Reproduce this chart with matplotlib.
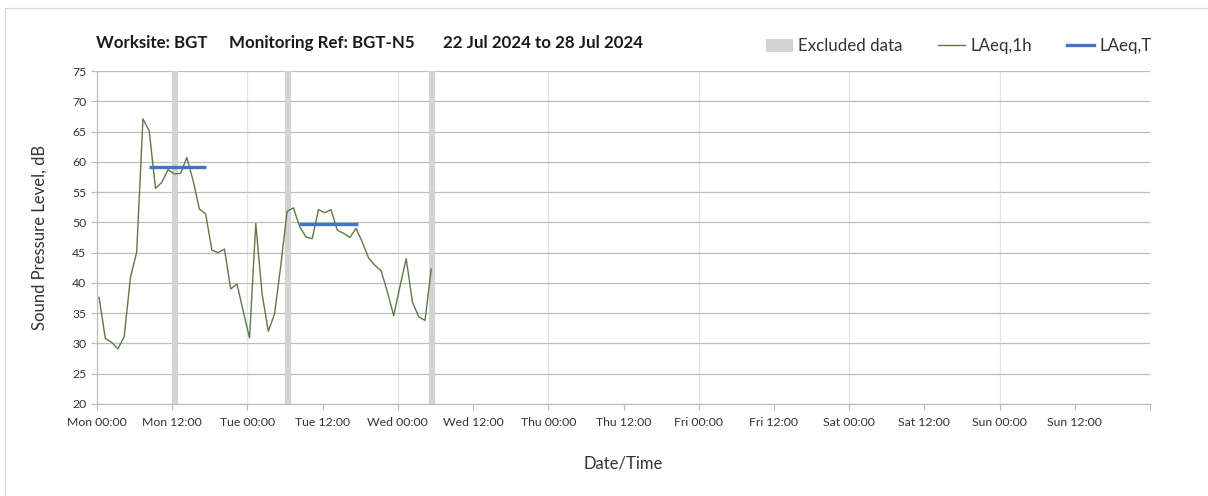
"""Weekly noise monitoring chart: LAeq,1h with LAeq,T and excluded periods."""

import matplotlib
matplotlib.use("Agg")
import matplotlib.pyplot as plt
from matplotlib.patches import Patch, Rectangle
from matplotlib.lines import Line2D
import numpy as np
import pandas as pd

plt.rcParams["font.family"] = ["Lato", "DejaVu Sans"]

# ---- data -------------------------------------------------------------
week_start = pd.Timestamp("2024-07-22 00:00")
first_reading = pd.Timestamp("2024-07-22 00:20")

laeq_1h = [
    37.6, 30.8, 30.2, 29.1, 31.1, 40.9, 45.1, 67.1, 65.1, 55.6,
    56.6, 58.7, 58.0, 58.1, 60.7, 56.9, 52.2, 51.4, 45.4, 45.0,
    45.6, 39.0, 39.8, 35.3, 30.9, 49.8, 38.2, 32.0, 34.9, 43.0,
    51.8, 52.4, 49.3, 47.6, 47.3, 52.1, 51.6, 52.1, 48.7, 48.2,
    47.5, 49.0, 46.7, 44.1, 42.9, 42.0, 38.5, 34.6, 39.4, 44.0,
    36.8, 34.4, 33.8, 42.3,
]

# LAeq,T periods (hours from Mon 00:00) and level
laeq_t_start = [8.3, 32.3]
laeq_t_end = [17.4, 41.6]
laeq_t_level = [59.1, 49.8]

# excluded data periods (hours from Mon 00:00)
excl_start = [12, 30, 53]
excl_end = [13, 31, 54]

day_names = ["Mon", "Tue", "Wed", "Thu", "Fri", "Sat", "Sun"]

# ---- plot -------------------------------------------------------------
times = pd.date_range(first_reading, periods=len(laeq_1h), freq="h")
hours = (times - week_start) / pd.Timedelta(hours=1)

fig = plt.figure(figsize=(12.08, 4.96), dpi=100)
ax = fig.add_axes([97 / 1208, 1 - 404 / 496, 1053 / 1208, 333 / 496])

for s, e in zip(excl_start, excl_end):
    ax.axvspan(s, e, color="#d3d3d3", lw=0, zorder=1)

ax.plot(hours, laeq_1h, color="#5b7a45", lw=1.0, zorder=3)
for s, e, v in zip(laeq_t_start, laeq_t_end, laeq_t_level):
    ax.plot([s, e], [v, v], color="#4472C4", lw=2.4, zorder=4, solid_capstyle="butt")

ax.set_xlim(0, 168)
ax.set_ylim(20, 75)
ax.set_yticks(np.arange(20, 76, 5))
xt = np.arange(0, 168, 12)
ax.set_xticks(np.arange(0, 169, 12))
ax.set_xticklabels([f"{day_names[int(h // 24)]} {int(h % 24):02d}:00" for h in xt] + [""])

ax.set_axisbelow(True)
ax.grid(axis="y", color="#bdbdbd", lw=0.9)
for h in np.arange(24, 168, 24):
    ax.axvline(h, color="#e3e3e3", lw=0.9, zorder=0)

for side in ["top", "right"]:
    ax.spines[side].set_visible(False)
for side in ["left", "bottom"]:
    ax.spines[side].set_color("#bdbdbd")
    ax.spines[side].set_linewidth(0.9)
ax.tick_params(axis="both", direction="out", length=4, width=0.9, color="#bdbdbd",
               labelsize=8.8, labelcolor="#333333")
ax.tick_params(axis="x", pad=5)

ax.set_ylabel("Sound Pressure Level, dB", fontsize=12, color="#333333", labelpad=18)
ax.set_xlabel("Date/Time", fontsize=12, color="#333333", labelpad=20)

# title pieces
ty = 1 - 43 / 496
title_kw = dict(fontsize=12.2, fontweight="bold", va="center", color="#1a1a1a")
fig.text(96 / 1208, ty, "Worksite: BGT", **title_kw)
fig.text(229 / 1208, ty, "Monitoring Ref: BGT-N5", **title_kw)
fig.text(443 / 1208, ty, "22 Jul 2024 to 28 Jul 2024", **title_kw)

handles = [
    Patch(facecolor="#d3d3d3", edgecolor="none"),
    Line2D([], [], color="#5b7a45", lw=1.0),
    Line2D([], [], color="#4472C4", lw=2.4),
]
fig.legend(handles, ["Excluded data", "LAeq,1h", "LAeq,T"], ncol=3, frameon=False,
           loc="center right", bbox_to_anchor=(1167 / 1208, 1 - 46 / 496),
           fontsize=12.2, handlelength=1.6, handleheight=0.8, handletextpad=0.3,
           columnspacing=2.1, labelcolor="#333333")

# chart area border
fig.add_artist(Rectangle((5 / 1208, -0.1), 2, 1 - 8 / 496 + 0.1, transform=fig.transFigure,
                         fill=False, edgecolor="#d9d9d9", lw=0.9))

fig.savefig("out.png", dpi=100)
